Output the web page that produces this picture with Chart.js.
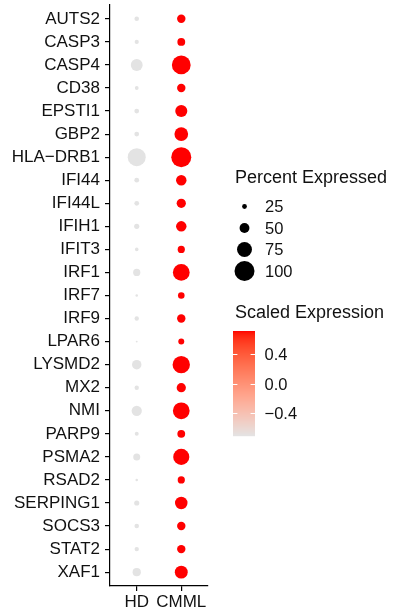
<!DOCTYPE html>
<html>
<head>
<meta charset="utf-8">
<script src="https://cdn.jsdelivr.net/npm/chart.js@4/dist/chart.umd.min.js"></script>
<style>
  html, body { margin: 0; padding: 0; background: #fff; }
  #wrap { width: 401px; height: 614px; }
</style>
</head>
<body>
<div id="wrap"><canvas id="c" width="401" height="614"></canvas></div>
<script>
// Genes (rows, top to bottom) and sample groups (columns)
const genes = ['AUTS2','CASP3','CASP4','CD38','EPSTI1','GBP2','HLA\u2212DRB1','IFI44','IFI44L','IFIH1',
  'IFIT3','IRF1','IRF7','IRF9','LPAR6','LYSMD2','MX2','NMI','PARP9','PSMA2','RSAD2','SERPING1',
  'SOCS3','STAT2','XAF1'];
const groups = ['HD', 'CMML'];

// Percent of cells expressing each gene
const pctHD = [24, 22, 60, 20, 25, 25, 90, 25, 25, 27, 19, 37, 14, 23, 11, 48, 23, 52, 21, 36, 14, 27, 24, 23, 42];
const pctCMML = [43, 40, 94, 43, 61, 69, 100, 53, 47, 53, 37, 84, 34, 43, 31, 87, 47, 84, 40, 81, 37, 63, 43, 43, 65];

// Scaled average expression
const scaledHD = [-0.707, -0.707, -0.707, -0.707, -0.707, -0.707, -0.707, -0.707, -0.707, -0.707, -0.707, -0.707, -0.707,
  -0.707, -0.707, -0.707, -0.707, -0.707, -0.707, -0.707, -0.707, -0.707, -0.707, -0.707, -0.707];
const scaledCMML = [0.707, 0.707, 0.707, 0.707, 0.707, 0.707, 0.707, 0.707, 0.707, 0.707, 0.707, 0.707, 0.707,
  0.707, 0.707, 0.707, 0.707, 0.707, 0.707, 0.707, 0.707, 0.707, 0.707, 0.707, 0.707];

// Legend breaks
const sizeBreaks = [25, 50, 75, 100];
const colorBreaks = [0.4, 0.0, -0.4];
const colorBreakLabels = ['0.4', '0.0', '\u22120.4'];

const pctByGroup = [pctHD, pctCMML];
const scaledByGroup = [scaledHD, scaledCMML];

// ---- size scale (radius grows linearly with percent) ----
const SIZE_MIN_PCT = 1.5, SIZE_MAX_PCT = 100, R_MAX = 10;
function radiusFor(p) {
  return Math.max(0.4, R_MAX * (p - SIZE_MIN_PCT) / (SIZE_MAX_PCT - SIZE_MIN_PCT));
}

// ---- colour scale: grey -> red, interpolated in CIE Lab ----
const COLOR_LOW = [227, 227, 227];
const COLOR_HIGH = [255, 0, 0];
const COLOR_LIMITS = [-0.7071, 0.7071];

function srgbToLin(c) { c /= 255; return c <= 0.04045 ? c / 12.92 : Math.pow((c + 0.055) / 1.055, 2.4); }
function linToSrgb(c) { const v = c <= 0.0031308 ? 12.92 * c : 1.055 * Math.pow(c, 1 / 2.4) - 0.055; return Math.round(Math.min(1, Math.max(0, v)) * 255); }
const WX = 0.95047, WY = 1.0, WZ = 1.08883;
function fLab(t) { return t > 0.008856 ? Math.cbrt(t) : 7.787 * t + 16 / 116; }
function fInv(t) { return t > 0.206893 ? t * t * t : (t - 16 / 116) / 7.787; }
function rgbToLab(rgb) {
  const r = srgbToLin(rgb[0]), g = srgbToLin(rgb[1]), b = srgbToLin(rgb[2]);
  const x = (0.4124 * r + 0.3576 * g + 0.1805 * b) / WX;
  const y = (0.2126 * r + 0.7152 * g + 0.0722 * b) / WY;
  const z = (0.0193 * r + 0.1192 * g + 0.9505 * b) / WZ;
  const fx = fLab(x), fy = fLab(y), fz = fLab(z);
  return [116 * fy - 16, 500 * (fx - fy), 200 * (fy - fz)];
}
function labToRgb(lab) {
  const fy = (lab[0] + 16) / 116, fx = fy + lab[1] / 500, fz = fy - lab[2] / 200;
  const x = fInv(fx) * WX, y = fInv(fy) * WY, z = fInv(fz) * WZ;
  const r = 3.2406 * x - 1.5372 * y - 0.4986 * z;
  const g = -0.9689 * x + 1.8758 * y + 0.0415 * z;
  const b = 0.0557 * x - 0.2040 * y + 1.0570 * z;
  return [linToSrgb(r), linToSrgb(g), linToSrgb(b)];
}
const LAB_LOW = rgbToLab(COLOR_LOW), LAB_HIGH = rgbToLab(COLOR_HIGH);
function colorFor(v) {
  let t = (v - COLOR_LIMITS[0]) / (COLOR_LIMITS[1] - COLOR_LIMITS[0]);
  t = Math.min(1, Math.max(0, t));
  const lab = [0, 1, 2].map(k => LAB_LOW[k] + (LAB_HIGH[k] - LAB_LOW[k]) * t);
  const c = labToRgb(lab);
  return `rgb(${c[0]},${c[1]},${c[2]})`;
}

const FONT = "'Liberation Sans', Arial, Helvetica, sans-serif";
const TEXT_COLOR = '#111';
const AXIS_FONT_SIZE = 17;

// ---- legends drawn to the right of the plot ----
const legendPlugin = {
  id: 'dotLegends',
  afterDraw(chart) {
    const ctx = chart.ctx;
    ctx.save();
    ctx.fillStyle = TEXT_COLOR;
    ctx.textAlign = 'left';
    ctx.textBaseline = 'alphabetic';
    ctx.font = `18px ${FONT}`;
    ctx.fillText('Percent Expressed', 235, 183);

    // size legend
    const dotX = 244.5, firstY = 206.5, stepY = 21.5;
    ctx.font = `16.5px ${FONT}`;
    sizeBreaks.forEach((b, i) => {
      const y = firstY + i * stepY;
      ctx.beginPath();
      ctx.fillStyle = '#000';
      ctx.arc(dotX, y, radiusFor(b), 0, Math.PI * 2);
      ctx.fill();
      ctx.fillStyle = TEXT_COLOR;
      ctx.textBaseline = 'middle';
      ctx.fillText(String(b), 265, y + 1);
    });

    // colour bar
    ctx.textBaseline = 'alphabetic';
    ctx.font = `18px ${FONT}`;
    ctx.fillText('Scaled Expression', 235, 318);
    const barL = 233, barW = 22, barTop = 331, barBot = 436;
    const valToY = v => barBot - (v - COLOR_LIMITS[0]) / (COLOR_LIMITS[1] - COLOR_LIMITS[0]) * (barBot - barTop);
    for (let y = barTop; y < barBot; y += 1) {
      const v = COLOR_LIMITS[1] - (y + 0.5 - barTop) / (barBot - barTop) * (COLOR_LIMITS[1] - COLOR_LIMITS[0]);
      ctx.fillStyle = colorFor(v);
      ctx.fillRect(barL, y, barW, 1.2);
    }
    ctx.strokeStyle = '#fff';
    ctx.lineWidth = 1;
    ctx.font = `16.5px ${FONT}`;
    colorBreaks.forEach((b, i) => {
      const y = Math.round(valToY(b)) + 0.5;
      ctx.beginPath();
      ctx.moveTo(barL, y); ctx.lineTo(barL + 4.4, y);
      ctx.moveTo(barL + barW - 4.4, y); ctx.lineTo(barL + barW, y);
      ctx.stroke();
      ctx.fillStyle = TEXT_COLOR;
      ctx.textBaseline = 'middle';
      ctx.fillText(colorBreakLabels[i], 264.5, y + 1);
    });
    ctx.restore();
  }
};

const datasets = groups.map((g, gi) => ({
  label: g,
  data: genes.map((gene, i) => ({ x: gi + 1, y: i + 1, r: radiusFor(pctByGroup[gi][i]) })),
  backgroundColor: genes.map((gene, i) => colorFor(scaledByGroup[gi][i])),
  borderWidth: 0,
  hoverRadius: 0,
  hoverBorderWidth: 0
}));

const axisGrid = { drawOnChartArea: false, drawTicks: true, tickLength: 5, color: '#000', lineWidth: 1.2 };
const axisBorder = { display: true, color: '#000', width: 1.2 };

function noEdgePadding(s) {
  s.paddingTop = 0; s.paddingBottom = 0; s.paddingLeft = 0; s.paddingRight = 0;
}

new Chart(document.getElementById('c'), {
  type: 'bubble',
  data: { datasets },
  options: {
    responsive: false,
    animation: false,
    events: [],
    clip: false,
    layout: { autoPadding: false, padding: { top: 5, right: 193, bottom: 0, left: 0 } },
    plugins: { legend: { display: false }, tooltip: { enabled: false } },
    scales: {
      x: {
        type: 'linear', position: 'bottom', min: 0.4, max: 2.6,
        afterBuildTicks: s => { s.ticks = groups.map((g, i) => ({ value: i + 1 })); },
        afterFit: s => { s.height = 28; noEdgePadding(s); },
        ticks: {
          callback: v => groups[Math.round(v) - 1],
          font: { family: FONT, size: AXIS_FONT_SIZE }, color: TEXT_COLOR,
          padding: 1, autoSkip: false, maxRotation: 0
        },
        grid: axisGrid,
        border: axisBorder
      },
      y: {
        type: 'linear', position: 'left', reverse: true, min: 0.4, max: 25.6,
        afterBuildTicks: s => { s.ticks = genes.map((g, i) => ({ value: i + 1 })); },
        afterFit: s => { s.width = 110; noEdgePadding(s); },
        ticks: {
          callback: v => genes[Math.round(v) - 1],
          font: { family: FONT, size: AXIS_FONT_SIZE }, color: TEXT_COLOR,
          padding: 5, autoSkip: false
        },
        grid: axisGrid,
        border: axisBorder
      }
    }
  },
  plugins: [legendPlugin]
});
</script>
</body>
</html>
